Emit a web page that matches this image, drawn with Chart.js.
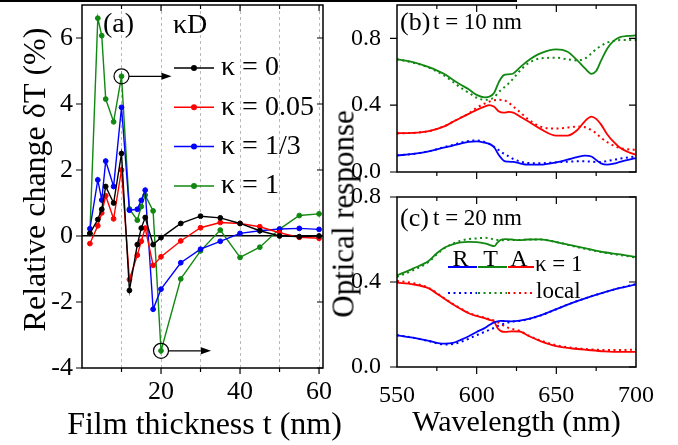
<!DOCTYPE html>
<html><head><meta charset="utf-8">
<script src="https://cdn.jsdelivr.net/npm/chart.js@4.4.1/dist/chart.umd.min.js"></script>
<style>
html,body{margin:0;padding:0;background:#fff;}
#wrap{position:relative;width:678px;height:445px;overflow:hidden;background:#fff;}
.cv{position:absolute;}
#topline{position:absolute;left:0;top:0;width:517px;height:2px;background:#000;}
#opt{position:absolute;left:343px;top:214px;transform:translate(-50%,-50%) rotate(-90deg);font-family:"Liberation Serif","Times New Roman",serif;font-size:31px;line-height:1;white-space:nowrap;color:#000;}
</style></head>
<body>
<div id="wrap">
  <canvas id="ca" class="cv" width="350" height="445" style="left:0;top:0"></canvas>
  <canvas id="cb" class="cv" width="348" height="195" style="left:330px;top:0"></canvas>
  <canvas id="cc" class="cv" width="348" height="265" style="left:330px;top:180px"></canvas>
  <div id="topline"></div>
  <div id="opt">Optical response</div>
</div>
<script>
// ---------------- Panel (a) data ----------------
const thickness = [2,4,5,6,8,10,12,14,15,16,18,20,25,30,35,40,45,50,55,60];
const dT_k0   = [0.08,0.50,0.81,1.50,1.00,2.50,-1.65,-0.26,0.24,0.56,-0.26,-0.05,0.38,0.60,0.55,0.38,0.16,0.00,-0.02,0.00];
const dT_k005 = [-0.23,0.31,0.70,1.22,0.52,2.00,-1.32,-0.58,-0.16,0.24,-0.89,-0.63,-0.15,0.25,0.41,0.38,0.28,0.10,-0.04,-0.07];
const dT_k13  = [0.22,1.70,1.09,2.27,1.50,3.90,0.78,0.81,1.08,1.39,-2.22,-1.61,-0.81,-0.40,-0.16,0.08,0.16,0.21,0.23,0.20];
const dT_k1   = [0.08,6.60,6.07,4.15,3.46,4.84,0.82,0.48,0.89,1.24,0.76,-3.48,-1.30,-0.45,0.18,-0.65,-0.34,0.21,0.62,0.67];
const kappaLabels = ['κ = 0','κ = 0.05','κ = 1/3','κ = 1'];
const markedThickness = [10, 20];
const xTicksA = {step:10, major:20};
const yTicksA = {step:1, major:2};
const xTitleA = 'Film thickness t (nm)';
const yTitleA = 'Relative change δT (%)';

// ---------------- Panel (b) data: t = 10 nm ----------------
const wlB = [550,560,570,580,585,590,595,600,605,608,611,614,617,620,623,627,632,640,650,657,663,668,672,675,678,682,686,690,695,700];
const bT  = [.675,.658,.628,.585,.553,.523,.495,.462,.447,.451,.475,.540,.580,.585,.590,.625,.665,.710,.734,.720,.670,.620,.588,.605,.665,.740,.785,.808,.815,.818];
const bT_local = [.675,.655,.625,.575,.540,.505,.475,.445,.432,.435,.448,.480,.505,.530,.560,.605,.648,.680,.684,.675,.668,.680,.710,.735,.755,.775,.785,.790,.790,.790];
const bA  = [.232,.234,.245,.275,.300,.325,.348,.372,.392,.400,.390,.362,.355,.360,.355,.333,.305,.258,.218,.218,.250,.305,.332,.318,.285,.225,.180,.145,.120,.103];
const bA_local = [.232,.234,.245,.275,.300,.325,.350,.385,.410,.422,.430,.432,.430,.415,.392,.360,.318,.272,.260,.266,.272,.268,.250,.232,.205,.178,.158,.143,.136,.133];
const bR  = [.099,.108,.124,.147,.158,.170,.180,.183,.176,.168,.148,.100,.068,.062,.060,.052,.044,.044,.058,.074,.089,.098,.093,.072,.052,.044,.050,.060,.072,.083];
const bR_local = [.099,.108,.124,.150,.162,.176,.186,.189,.180,.168,.150,.130,.110,.095,.078,.064,.054,.052,.058,.062,.064,.064,.062,.060,.060,.066,.073,.080,.087,.093];

// ---------------- Panel (c) data: t = 20 nm ----------------
const wlC = [550,560,570,575,580,585,590,595,600,605,608,611,613,615,618,622,627,632,640,650,660,670,680,690,700];
const cT  = [.431,.463,.500,.535,.562,.577,.586,.589,.588,.582,.575,.569,.585,.598,.602,.600,.597,.600,.601,.588,.572,.556,.540,.530,.518];
const cT_local = [.424,.455,.495,.530,.560,.580,.594,.602,.605,.608,.606,.600,.598,.597,.597,.598,.598,.600,.600,.588,.570,.553,.538,.527,.515];
const cA  = [.397,.389,.370,.345,.320,.295,.273,.253,.240,.230,.222,.213,.185,.170,.165,.168,.167,.148,.122,.098,.087,.080,.074,.071,.071];
const cA_local = [.405,.395,.372,.348,.322,.297,.275,.255,.242,.232,.225,.218,.212,.203,.190,.180,.170,.150,.125,.102,.090,.084,.080,.080,.082];
const cR  = [.149,.138,.123,.114,.110,.113,.128,.145,.165,.183,.198,.210,.215,.217,.216,.215,.218,.225,.243,.272,.302,.328,.351,.372,.389];
const cR_local = [.150,.138,.122,.112,.106,.108,.118,.133,.150,.165,.175,.184,.192,.198,.206,.213,.217,.224,.242,.272,.302,.328,.351,.372,.390];
const rtaLetters = ['R','T','A'];
const kappaC = 'κ = 1';
const localLabel = 'local';

// ---------------- styling ----------------
const FONT = '"Liberation Serif","Times New Roman",serif';
Chart.defaults.font.family = FONT;
Chart.defaults.color = '#000';
const colorsA = ['#000000','#ff0000','#0000ff','#118811'];
const colR = '#0000ff', colT = '#118811', colA = '#ff0000';

function isMul(v, step){ const r = v/step; return Math.abs(r - Math.round(r)) < 1e-6; }
function fitY(w){ return s => { s.width = w; s.paddingTop = 0; s.paddingBottom = 0; }; }
function fitX(h){ return s => { s.height = h; s.paddingLeft = 0; s.paddingRight = 0; }; }

const framePlugin = {
  id: 'frame',
  afterDraw(chart) {
    const o = chart.options.plugins.frame; if (!o) return;
    const {ctx, chartArea: a} = chart;
    const xs = chart.scales.x, ys = chart.scales.y;
    ctx.save();
    ctx.strokeStyle = '#000';
    ctx.lineWidth = 1.2;
    ctx.beginPath();
    for (const t of xs.ticks) {
      const p = xs.getPixelForValue(t.value);
      if (p < a.left + 1 || p > a.right - 1) continue;
      const L = isMul(t.value, o.xMajor) ? o.major : o.minor;
      ctx.moveTo(p, a.bottom); ctx.lineTo(p, a.bottom + L);
      ctx.moveTo(p, a.top); ctx.lineTo(p, a.top + L);
    }
    for (const t of ys.ticks) {
      const p = ys.getPixelForValue(t.value);
      if (p < a.top - 0.5 || p > a.bottom + 0.5) continue;
      const L = isMul(t.value, o.yMajor) ? o.major : o.minor;
      ctx.moveTo(a.left - L, p); ctx.lineTo(a.left, p);
      ctx.moveTo(a.right - L, p); ctx.lineTo(a.right, p);
    }
    ctx.stroke();
    ctx.lineWidth = 1.5;
    ctx.strokeRect(a.left, a.top, a.right - a.left, a.bottom - a.top);
    ctx.restore();
  }
};

// ---------------- Chart (a) ----------------
const seriesA = [dT_k0, dT_k005, dT_k13, dT_k1];
const annotA = {
  id: 'annotA',
  afterDraw(chart) {
    const {ctx, chartArea: a, scales: {x, y}} = chart;
    ctx.save();
    ctx.fillStyle = '#000'; ctx.textBaseline = 'middle'; ctx.textAlign = 'left';
    ctx.font = '28px ' + FONT;
    ctx.fillText('(a)', a.left + 21, a.top + 20);
    ctx.fillText('κD', a.left + 91, a.top + 21);
    chart.data.datasets.forEach((ds, i) => {
      const yy = a.top + 63 + i * 39.3;
      const x0 = a.left + 92, x1 = a.left + 132;
      ctx.strokeStyle = ds.borderColor; ctx.lineWidth = 1.5;
      ctx.beginPath(); ctx.moveTo(x0, yy); ctx.lineTo(x1, yy); ctx.stroke();
      ctx.fillStyle = ds.borderColor;
      ctx.beginPath(); ctx.arc((x0 + x1) / 2, yy, 3, 0, Math.PI * 2); ctx.fill();
      ctx.fillStyle = '#000';
      ctx.fillText(ds.label, x1 + 7, yy);
    });
    ctx.strokeStyle = '#000'; ctx.fillStyle = '#000'; ctx.lineWidth = 1.2;
    markedThickness.forEach(t => {
      const j = thickness.indexOf(t);
      const px = x.getPixelForValue(t), py = y.getPixelForValue(dT_k1[j]);
      ctx.beginPath(); ctx.arc(px, py, 7.5, 0, Math.PI * 2); ctx.stroke();
      ctx.beginPath(); ctx.moveTo(px + 7.5, py); ctx.lineTo(px + 42, py); ctx.stroke();
      ctx.beginPath(); ctx.moveTo(px + 50, py); ctx.lineTo(px + 40, py - 3.5); ctx.lineTo(px + 40, py + 3.5); ctx.closePath(); ctx.fill();
    });
    // axis titles (drawn without width squeezing)
    ctx.font = '32px ' + FONT;
    ctx.textAlign = 'center'; ctx.textBaseline = 'alphabetic';
    ctx.fillText(xTitleA, (a.left + a.right) / 2 + 2, a.bottom + 66);
    ctx.translate(a.left - 37, (a.top + a.bottom) / 2 - 7);
    ctx.rotate(-Math.PI / 2);
    ctx.fillText(yTitleA, 0, 0);
    ctx.restore();
  }
};

new Chart(document.getElementById('ca'), {
  type: 'line',
  data: {
    datasets: seriesA.map((s, i) => ({
      label: kappaLabels[i],
      data: thickness.map((t, j) => ({x: t, y: s[j]})),
      borderColor: colorsA[i], backgroundColor: colorsA[i],
      pointBackgroundColor: colorsA[i], pointBorderColor: colorsA[i],
      pointRadius: 2.4, pointBorderWidth: 1, borderWidth: 1.4, tension: 0
    }))
  },
  options: {
    responsive: false, animation: false,
    layout: {padding: {left: 0, top: 4, right: 27, bottom: 0}},
    plugins: {legend: {display: false}, tooltip: {enabled: false},
      frame: {xMajor: xTicksA.major, yMajor: yTicksA.major, major: 6, minor: 4}},
    scales: {
      x: {
        type: 'linear', min: 0, max: 61,
        afterFit: fitX(77),
        ticks: {stepSize: xTicksA.step, includeBounds: false, autoSkip: false, maxRotation: 0, minRotation: 0,
          padding: 9, font: {size: 26},
          callback: v => v === 0 ? null : (isMul(v, xTicksA.major) ? String(v) : '')},
        grid: {drawTicks: false, color: '#b8b8b8', lineWidth: 1},
        border: {display: false, dash: [3, 3]},
        title: {display: false, text: xTitleA}
      },
      y: {
        type: 'linear', min: -4, max: 7,
        afterFit: fitY(82),
        ticks: {stepSize: yTicksA.step, autoSkip: false, padding: 9, font: {size: 26},
          callback: v => (isMul(v, yTicksA.major) && v < 6.5) ? String(v) : null},
        grid: {drawTicks: false, color: c => (c.tick && c.tick.value === 0) ? '#000' : 'rgba(0,0,0,0)', lineWidth: 1.5},
        border: {display: false},
        title: {display: false, text: yTitleA}
      }
    }
  },
  plugins: [framePlugin, annotA]
});

// ---------------- Charts (b), (c) ----------------
function specDatasets(wl, R, T, A, Rl, Tl, Al) {
  const mk = (lab, arr, col, dotted) => ({
    label: lab, data: wl.map((w, j) => ({x: w, y: arr[j]})),
    borderColor: col, borderWidth: dotted ? 2 : 1.8, borderDash: dotted ? [2, 3.5] : [],
    pointRadius: 0, cubicInterpolationMode: 'monotone', fill: false
  });
  return [mk('R', R, colR, false), mk('T', T, colT, false), mk('A', A, colA, false),
          mk('R local', Rl, colR, true), mk('T local', Tl, colT, true), mk('A local', Al, colA, true)];
}

function specOptions(ymax, padTop, xHeight, showX, tag, tLabel, tagDy) {
  return {
    responsive: false, animation: false,
    layout: {padding: {left: 0, top: padTop, right: 42, bottom: 0}},
    plugins: {legend: {display: false}, tooltip: {enabled: false},
      frame: {xMajor: 50, yMajor: 0.4, major: 7, minor: 4},
      tag: {tag, tLabel, dy: tagDy}},
    scales: {
      x: {
        type: 'linear', min: 550, max: 700,
        afterFit: fitX(xHeight),
        ticks: {display: showX, stepSize: 25, includeBounds: false, autoSkip: false, maxRotation: 0, minRotation: 0,
          padding: 6, font: {size: 24}, callback: v => isMul(v, 50) ? String(v) : ''},
        grid: {display: false}, border: {display: false},
        title: {display: showX, text: 'Wavelength (nm)', font: {size: 30}, padding: {top: 0, bottom: 4}}
      },
      y: {
        type: 'linear', min: 0, max: ymax,
        afterFit: fitY(67),
        ticks: {stepSize: 0.2, autoSkip: false, padding: 8, font: {size: 24},
          callback: v => (isMul(v, 0.4) && v < 0.95) ? v.toFixed(1) : null},
        grid: {display: false}, border: {display: false}
      }
    }
  };
}

const tagPlugin = {
  id: 'tag',
  afterDraw(chart) {
    const o = chart.options.plugins.tag; if (!o) return;
    const {ctx, chartArea: a} = chart;
    ctx.save();
    ctx.fillStyle = '#000'; ctx.textBaseline = 'middle'; ctx.textAlign = 'left';
    ctx.font = '26px ' + FONT;
    ctx.fillText(o.tag, a.left + 3, a.top + o.dy);
    ctx.font = '23px ' + FONT;
    ctx.fillText(o.tLabel, a.left + 36, a.top + o.dy);
    ctx.restore();
  }
};

const legendC = {
  id: 'legendC',
  afterDraw(chart) {
    const {ctx, chartArea: a} = chart;
    const ds = chart.data.datasets;
    const segs = [[51, 80], [81, 110], [111, 137]];
    const y1 = a.top + 70, y2 = a.top + 96;
    ctx.save();
    ctx.textAlign = 'center'; ctx.textBaseline = 'alphabetic';
    ctx.font = '24px ' + FONT;
    for (let i = 0; i < 3; i++) {
      const [s0, s1] = segs[i];
      ctx.strokeStyle = ds[i].borderColor; ctx.lineWidth = 2; ctx.setLineDash([]);
      ctx.beginPath(); ctx.moveTo(a.left + s0, y1); ctx.lineTo(a.left + s1, y1); ctx.stroke();
      ctx.fillStyle = '#000';
      ctx.fillText(rtaLetters[i], a.left + (s0 + s1) / 2 - 2, y1 - 1.5);
      ctx.strokeStyle = ds[i + 3].borderColor; ctx.setLineDash([2, 3.5]);
      ctx.beginPath(); ctx.moveTo(a.left + s0, y2); ctx.lineTo(a.left + s1, y2); ctx.stroke();
    }
    ctx.setLineDash([]);
    ctx.textAlign = 'left';
    ctx.font = '23px ' + FONT;
    ctx.fillText(kappaC, a.left + 138, y1 + 4);
    ctx.fillText(localLabel, a.left + 139, y2 + 5);
    ctx.restore();
  }
};

new Chart(document.getElementById('cb'), {
  type: 'line',
  data: {datasets: specDatasets(wlB, bR, bT, bA, bR_local, bT_local, bA_local)},
  options: specOptions(1.0, 5, 23, false, '(b)', 't = 10 nm', 18),
  plugins: [framePlugin, tagPlugin]
});

new Chart(document.getElementById('cc'), {
  type: 'line',
  data: {datasets: specDatasets(wlC, cR, cT, cA, cR_local, cT_local, cA_local)},
  options: specOptions(0.8, 17, 78, true, '(c)', 't = 20 nm', 22),
  plugins: [framePlugin, tagPlugin, legendC]
});
</script>
</body></html>
